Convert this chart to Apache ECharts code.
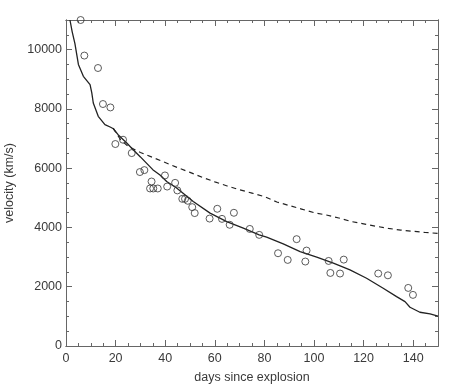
<!DOCTYPE html>
<html>
<head>
<meta charset="utf-8">
<script src="https://cdn.jsdelivr.net/npm/echarts@6/dist/echarts.min.js"></script>
<style>html,body{margin:0;padding:0;background:#fff}#c{width:457px;height:388px}</style>
</head>
<body>
<div id="c"></div>
<script>
// Observed velocities (days, km/s)
const obsDays = [5.9, 7.4, 12.9, 14.9, 17.9, 19.9, 23.0, 26.5, 29.8, 31.6, 34.5, 33.9, 35.2, 37.0, 39.9, 40.8, 44.0, 44.9, 46.9, 48.0, 49.1, 50.9, 51.9, 57.9, 61.0, 62.9, 66.0, 67.7, 74.1, 77.9, 85.5, 89.4, 93.0, 97.0, 96.5, 105.9, 106.6, 110.5, 112.0, 125.9, 129.8, 138.0, 139.9];
const obsVel = [11000, 9800, 9380, 8165, 8050, 6815, 6960, 6510, 5870, 5935, 5550, 5315, 5315, 5315, 5755, 5380, 5505, 5250, 4965, 4965, 4900, 4685, 4485, 4300, 4630, 4290, 4090, 4495, 3950, 3750, 3130, 2905, 3605, 3220, 2850, 2870, 2465, 2445, 2915, 2445, 2385, 1960, 1725];

// Model (solid)
const modelDays = [1.6, 2.5, 3.6, 5.0, 7.0, 9.7, 10.4, 11.0, 13.0, 15.7, 18.0, 19.1, 21.0, 24.5, 27.0, 30.0, 35.0, 37.9, 40.6, 44.6, 51.3, 58.1, 64.8, 71.5, 77.9, 80.9, 87.6, 94.4, 101.1, 107.8, 114.5, 121.2, 127.9, 133.3, 136.7, 138.7, 142.7, 146.8, 150];
const modelVel = [11000, 10600, 10200, 9500, 9100, 8820, 8540, 8200, 7750, 7470, 7380, 7330, 7130, 6850, 6630, 6380, 5950, 5770, 5550, 5330, 4875, 4483, 4199, 3976, 3750, 3672, 3446, 3186, 2997, 2794, 2568, 2287, 1949, 1666, 1497, 1307, 1139, 1081, 1010];

// Model (dashed)
const dashDays = [19, 22, 25, 30, 35, 40, 45, 50, 55, 60, 65, 70, 75, 80, 85, 90, 95, 100, 105, 110, 115, 120, 125, 130, 135, 140, 145, 150];
const dashVel = [7350, 6960, 6740, 6530, 6360, 6190, 6020, 5860, 5690, 5540, 5400, 5270, 5160, 5040, 4860, 4740, 4620, 4500, 4420, 4320, 4200, 4120, 4040, 3970, 3910, 3870, 3830, 3800];

const xMin = 0, xMax = 150, xMajor = 20, xMinor = 5;
const yMin = 0, yMax = 11000, yMajor = 2000, yMinor = 500;

const axisColor = '#666';
const textColor = '#3a3a3a';
const font = 'Liberation Sans, Arial, Helvetica, sans-serif';
const fs = 12.5;

function xAx(pos, interval, len, labels, name) {
  return {
    type: 'value', position: pos, min: xMin, max: xMax, interval: interval,
    name: name || '', nameLocation: 'middle', nameGap: 25,
    nameTextStyle: {color: textColor, fontSize: fs, fontFamily: font},
    axisLine: {show: true, onZero: false, lineStyle: {color: axisColor, width: 1}},
    axisTick: {show: true, inside: true, length: len, lineStyle: {color: axisColor}},
    axisLabel: {show: labels, color: textColor, fontSize: fs, fontFamily: font, margin: 6, showMaxLabel: false,
      formatter: v => String(v)},
    splitLine: {show: false}
  };
}
function yAx(pos, interval, len, labels, name) {
  return {
    type: 'value', position: pos, min: yMin, max: yMax, interval: interval,
    name: name || '', nameLocation: 'middle', nameGap: 48,
    nameTextStyle: {color: textColor, fontSize: fs, fontFamily: font},
    axisLine: {show: true, onZero: false, lineStyle: {color: axisColor, width: 1}},
    axisTick: {show: true, inside: true, length: len, lineStyle: {color: axisColor}},
    axisLabel: {show: labels, color: textColor, fontSize: fs, fontFamily: font, margin: 4, showMaxLabel: false,
      formatter: v => String(v)},
    splitLine: {show: false}
  };
}

const chart = echarts.init(document.getElementById('c'), null, {renderer: 'canvas'});
chart.setOption({
  animation: false,
  backgroundColor: '#fff',
  grid: {left: 66, right: 19, top: 20, bottom: 42, containLabel: false, outerBoundsMode: 'none'},
  xAxis: [
    xAx('bottom', xMajor, 6, true, 'days since explosion'),
    xAx('bottom', xMinor, 3, false),
    xAx('top', xMajor, 6, false),
    xAx('top', xMinor, 3, false)
  ],
  yAxis: [
    yAx('left', yMajor, 6, true, 'velocity (km/s)'),
    yAx('left', yMinor, 3, false),
    yAx('right', yMajor, 6, false),
    yAx('right', yMinor, 3, false)
  ],
  series: [
    {
      type: 'line', xAxisIndex: 0, yAxisIndex: 0, showSymbol: false, symbol: 'none',
      data: modelDays.map((d, i) => [d, modelVel[i]]),
      lineStyle: {color: '#222', width: 1.3}, z: 3
    },
    {
      type: 'line', xAxisIndex: 0, yAxisIndex: 0, showSymbol: false, symbol: 'none',
      data: dashDays.map((d, i) => [d, dashVel[i]]),
      lineStyle: {color: '#222', width: 1.2, type: [5, 4]}, z: 3
    },
    {
      type: 'scatter', xAxisIndex: 0, yAxisIndex: 0,
      symbol: 'circle', symbolSize: 7,
      data: obsDays.map((d, i) => [d, obsVel[i]]),
      itemStyle: {color: 'rgba(255,255,255,0)', borderColor: '#333', borderWidth: 1}, z: 4
    }
  ]
});
</script>
</body>
</html>
